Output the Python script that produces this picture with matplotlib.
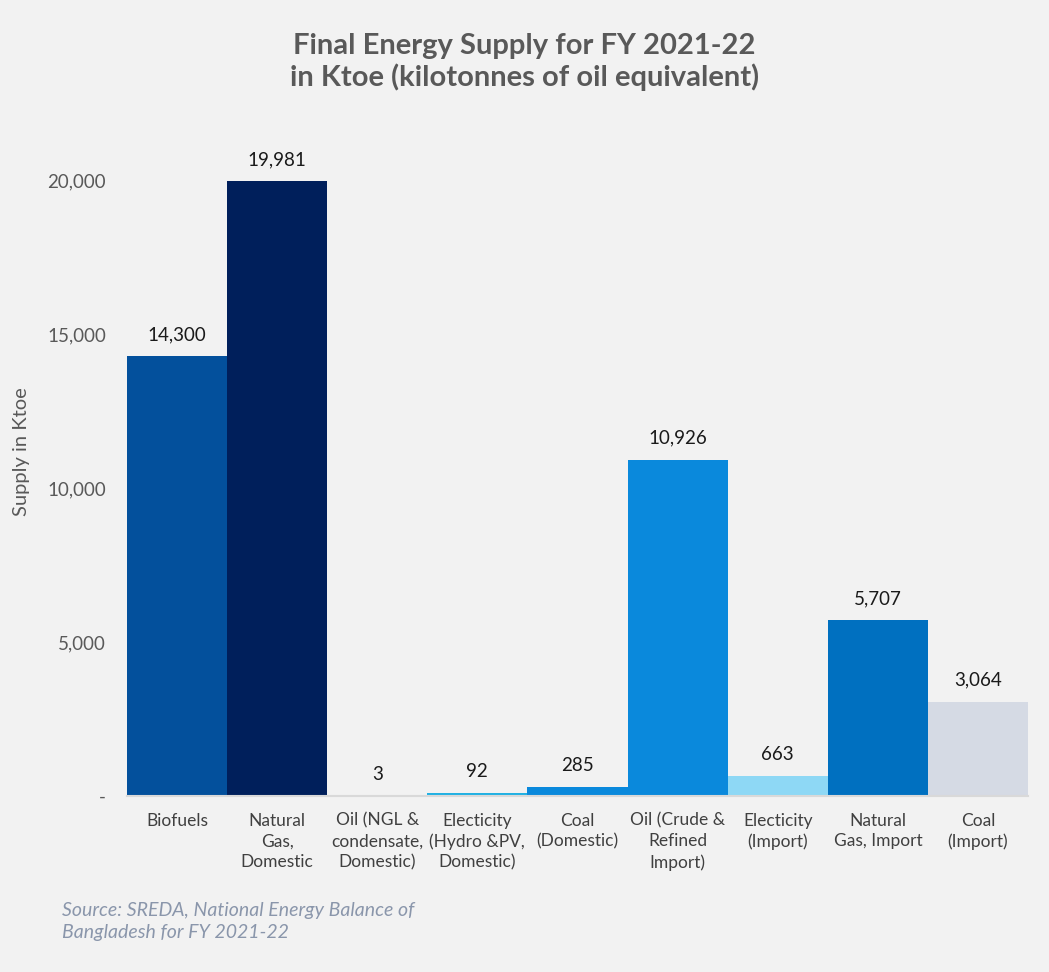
import matplotlib.pyplot as plt
from matplotlib.ticker import FuncFormatter

# data
categories = ["Biofuels", "Natural\nGas,\nDomestic", "Oil (NGL &\ncondensate,\nDomestic)",
              "Electicity\n(Hydro &PV,\nDomestic)", "Coal\n(Domestic)", "Oil (Crude &\nRefined\nImport)",
              "Electicity\n(Import)", "Natural\nGas, Import", "Coal\n(Import)"]
values = [14300, 19981, 3, 92, 285, 10926, 663, 5707, 3064]
colors = ["#03509c", "#001f5b", "#7a9cc6", "#21b1e3", "#0a89dc", "#0a89dc",
          "#8ed8f5", "#0070c0", "#d5dae4"]

bg = "#f2f2f2"
plt.rcParams['font.family'] = ['Lato', 'DejaVu Sans']

fig = plt.figure(figsize=(10.49, 9.72), dpi=100, facecolor=bg)
ax = fig.add_axes([0.121, 0.181, 0.859, 0.681], facecolor=bg)

x = range(len(categories))
bars = ax.bar(x, values, width=1.0, color=colors, linewidth=0)

for xi, v in zip(x, values):
    ax.text(xi, v + 420, f"{v:,}", ha='center', va='bottom', fontsize=13.5, color='#1a1a1a')

ax.set_xlim(-0.5, len(categories) - 0.5)
ax.set_ylim(0, 21500)
ax.set_yticks([0, 5000, 10000, 15000, 20000])
ax.yaxis.set_major_formatter(FuncFormatter(lambda v, p: "-" if v == 0 else f"{int(v):,}"))
ax.tick_params(axis='y', length=0, pad=15, labelsize=13.5, labelcolor='#595959')
ax.set_xticks(list(x))
ax.set_xticklabels(categories, fontsize=12.5, color='#404040', linespacing=1.35)
ax.tick_params(axis='x', length=0, pad=12)

for s in ['top', 'right', 'left']:
    ax.spines[s].set_visible(False)
ax.spines['bottom'].set_color('#d9d9d9')
ax.spines['bottom'].set_linewidth(1.5)

ax.set_ylabel("Supply in Ktoe", fontsize=14.5, color='#595959')
ax.yaxis.set_label_coords(-0.108, 0.52)

fig.text(0.5, 0.966, "Final Energy Supply for FY 2021-22\nin Ktoe (kilotonnes of oil equivalent)",
         ha='center', va='top', fontsize=21, fontweight='bold', color='#595959', linespacing=1.2)

fig.text(0.059, 0.052, "Source: SREDA, National Energy Balance of\nBangladesh for FY 2021-22",
         ha='left', va='center', fontsize=14, style='italic', color='#8a96ab', linespacing=1.4)

fig.savefig("out.png", dpi=100, facecolor=bg)
